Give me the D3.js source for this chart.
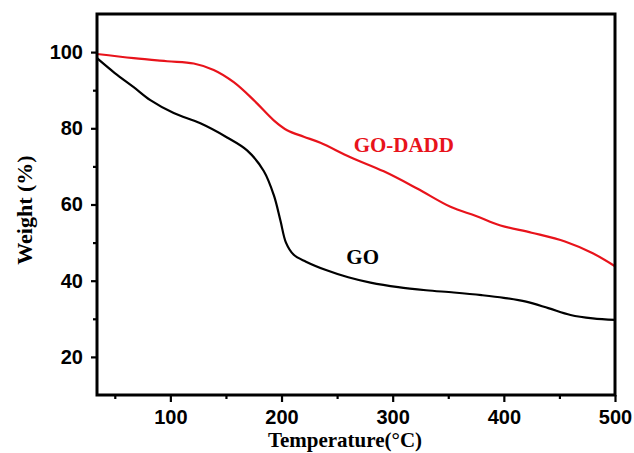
<!DOCTYPE html>
<html>
<head>
<meta charset="utf-8">
<script src="https://cdn.jsdelivr.net/npm/d3@7"></script>
<style>
  body { margin: 0; background: #fff; }
  .tick text { font-family: "Liberation Sans", Arial, sans-serif; font-weight: bold; font-size: 20px; fill: #000; }
  .title { font-family: "Liberation Serif", "Times New Roman", serif; font-weight: bold; font-size: 22px; }
</style>
</head>
<body>
<div id="chart"></div>
<script>
// TGA curves
const goTemp = [34, 50, 67, 82, 103, 127, 151, 169, 184, 193, 199, 204, 211, 222, 240, 260, 280, 305, 330, 355, 380, 400, 420, 440, 460, 480, 500]
const goWeight = [98.4, 94.5, 90.8, 87.4, 84, 81.3, 77.6, 74.2, 68.8, 62.5, 55.8, 50, 46.8, 45.0, 42.8, 40.9, 39.5, 38.3, 37.5, 36.9, 36.2, 35.5, 34.5, 32.8, 31.0, 30.1, 29.7]

const daddTemp = [34, 67, 97, 121, 139, 157, 175, 193, 205, 220, 235, 262, 292, 322, 352, 375, 397, 425, 455, 480, 500]
const daddWeight = [99.5, 98.4, 97.6, 97.0, 95.3, 92.1, 87.4, 82.1, 79.5, 77.8, 76.2, 72.4, 68.7, 64.2, 59.4, 57, 54.5, 52.6, 50.3, 47.2, 43.8]

const xMajor = [100, 200, 300, 400, 500]
const xMinor = [50, 150, 250, 350, 450]
const yMajor = [20, 40, 60, 80, 100]
const yMinor = [30, 50, 70, 90]

const margin = {top: 14, right: 19, bottom: 58, left: 97}
const W = 634, H = 453
const w = W - margin.left - margin.right
const h = H - margin.top - margin.bottom

let svg = d3.select('#chart').append('svg')
            .attr('width', W)
            .attr('height', H)

let g = svg.append('g').attr('transform', `translate(${margin.left},${margin.top})`)

let x = d3.scaleLinear().domain([34, 500]).range([0, w])
let y = d3.scaleLinear().domain([10, 110]).range([h, 0])

let line = d3.line().x(d => x(d[0])).y(d => y(d[1])).curve(d3.curveCatmullRom.alpha(0.5))

let series = [
  {name: 'GO', pts: d3.zip(goTemp, goWeight), color: '#000000'},
  {name: 'GO-DADD', pts: d3.zip(daddTemp, daddWeight), color: '#e8131b'}
]

g.selectAll('.curve').data(series).enter().append('path')
  .attr('class', 'curve')
  .attr('d', d => line(d.pts))
  .attr('fill', 'none')
  .attr('stroke', d => d.color)
  .attr('stroke-width', 2.2)

// axes
g.append('g').attr('transform', `translate(0,${h})`)
  .call(d3.axisBottom(x).tickValues(xMajor).tickSize(7).tickPadding(8).tickFormat(d3.format('d')))
g.append('g').attr('transform', `translate(0,${h})`)
  .call(d3.axisBottom(x).tickValues(xMinor).tickSize(4).tickFormat(''))
g.append('g')
  .call(d3.axisLeft(y).tickValues(yMajor).tickSize(6).tickPadding(8).tickFormat(d3.format('d')))
g.append('g')
  .call(d3.axisLeft(y).tickValues(yMinor).tickSize(4).tickFormat(''))

g.selectAll('.domain').remove()
g.selectAll('.tick line').attr('stroke', '#000').attr('stroke-width', 2.2)

g.append('rect')
  .attr('width', w).attr('height', h)
  .attr('fill', 'none')
  .attr('stroke', '#000')
  .attr('stroke-width', 3)

// curve labels
g.append('text').attr('class', 'title')
  .attr('x', x(310)).attr('y', y(73.8))
  .attr('text-anchor', 'middle')
  .attr('fill', '#e8131b')
  .style('font-size', '21px')
  .text('GO-DADD')
g.append('text').attr('class', 'title')
  .attr('x', x(273)).attr('y', y(44.5))
  .attr('text-anchor', 'middle')
  .attr('fill', '#000')
  .style('font-size', '21px')
  .text('GO')

// axis titles
svg.append('text').attr('class', 'title')
  .attr('x', 345).attr('y', 447)
  .attr('text-anchor', 'middle')
  .style('font-size', '21px')
  .text('Temperature(°C)')
svg.append('text').attr('class', 'title')
  .attr('transform', 'translate(32,210) rotate(-90)')
  .attr('text-anchor', 'middle')
  .text('Weight (%)')
</script>
</body>
</html>
